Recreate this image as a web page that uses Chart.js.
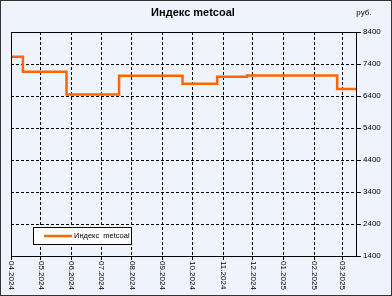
<!DOCTYPE html>
<html>
<head>
<meta charset="utf-8">
<script src="https://cdn.jsdelivr.net/npm/chart.js@4/dist/chart.umd.min.js"></script>
<style>
  html, body { margin: 0; padding: 0; background: #fff; }
  canvas { display: block; }
</style>
</head>
<body>
<canvas id="metcoal" width="392" height="296"></canvas>
<script>
// index values (rub.), step changes
const dates = ['2024-04-01', '2024-04-13', '2024-05-27', '2024-07-19', '2024-09-21', '2024-10-26', '2024-11-25', '2025-02-24', '2025-03-15'];
const values = [7630, 7160, 6450, 7030, 6780, 7000, 7040, 6620, 6620];
const monthStarts = ['2024-04-01', '2024-05-01', '2024-06-01', '2024-07-01', '2024-08-01', '2024-09-01', '2024-10-01', '2024-11-01', '2024-12-01', '2025-01-01', '2025-02-01', '2025-03-01'];
const monthLabels = ['04.2024', '05.2024', '06.2024', '07.2024', '08.2024', '09.2024', '10.2024', '11.2024', '12.2024', '01.2025', '02.2025', '03.2025'];
const yTicks = [1400, 2400, 3400, 4400, 5400, 6400, 7400, 8400];

const seriesName = 'Индекс  metcoal';
const chartTitle = 'Индекс metcoal';
const unit = 'руб.';

const start = Date.parse(dates[0]);
const toDay = d => Math.round((Date.parse(d) - start) / 86400000);
const points = dates.map((d, i) => ({ x: toDay(d), y: values[i] }));
const monthDays = monthStarts.map(toDay);

const bg = '#eff3fc';
const orange = '#ff6600';

const decor = {
    id: 'decor',
    beforeDraw(chart) {
        const ctx = chart.ctx;
        ctx.save();
        ctx.fillStyle = bg;
        ctx.fillRect(0, 0, chart.width, chart.height);
        ctx.restore();
    },
    afterDraw(chart) {
        const ctx = chart.ctx;
        const a = chart.chartArea;
        const xs = chart.scales.x;
        ctx.save();
        // plot frame
        ctx.strokeStyle = '#000';
        ctx.lineWidth = 1;
        ctx.strokeRect(Math.round(a.left) + 0.5, Math.round(a.top) + 0.5, Math.round(a.right - a.left), Math.round(a.bottom - a.top));
        // title
        ctx.fillStyle = '#000';
        ctx.font = 'bold 11px "Liberation Sans", Arial, sans-serif';
        ctx.textAlign = 'center';
        ctx.textBaseline = 'middle';
        ctx.fillText(chartTitle, 193, 13);
        ctx.font = '8px "Liberation Sans", Arial, sans-serif';
        ctx.fillText(unit, 364, 13);
        // month labels, rotated clockwise
        ctx.font = '8px "Liberation Sans", Arial, sans-serif';
        ctx.textAlign = 'left';
        monthDays.forEach((d, i) => {
            const px = xs.getPixelForValue(d);
            ctx.save();
            ctx.translate(px, a.bottom + 5);
            ctx.rotate(Math.PI / 2);
            ctx.fillText(monthLabels[i], 0, 0);
            ctx.restore();
        });
        // legend
        ctx.fillStyle = '#fff';
        ctx.fillRect(33.5, 227.5, 98, 17);
        ctx.strokeStyle = '#000';
        ctx.strokeRect(33.5, 227.5, 98, 17);
        ctx.strokeStyle = orange;
        ctx.lineWidth = 2.5;
        ctx.beginPath();
        ctx.moveTo(44, 236);
        ctx.lineTo(72, 236);
        ctx.stroke();
        ctx.fillStyle = '#000';
        ctx.font = '7.5px "Liberation Sans", Arial, sans-serif';
        ctx.textBaseline = 'middle';
        ctx.fillText(seriesName, 74, 236);
        // outer border
        ctx.strokeStyle = '#333';
        ctx.lineWidth = 1;
        ctx.strokeRect(0.5, 0.5, chart.width - 1, chart.height - 1);
        ctx.restore();
    }
};

new Chart('metcoal', {
    type: 'line',
    data: {
        datasets: [{
            label: seriesName,
            data: points,
            borderColor: orange,
            borderWidth: 2.5,
            stepped: true,
            pointRadius: 0,
            fill: false
        }]
    },
    options: {
        responsive: false,
        animation: false,
        layout: { padding: { left: 11, top: 32, right: 0, bottom: 0 } },
        plugins: {
            legend: { display: false },
            title: { display: false },
            tooltip: { enabled: false }
        },
        scales: {
            x: {
                type: 'linear',
                min: 0,
                max: 348,
                afterBuildTicks: s => { s.ticks = monthDays.map(v => ({ value: v })); },
                afterFit: s => { s.height = 40; },
                ticks: { display: false },
                grid: { color: '#000', lineWidth: 1, drawTicks: true, tickLength: 4 },
                border: { color: '#000', width: 1, dash: [3, 2] }
            },
            y: {
                position: 'right',
                min: 1400,
                max: 8400,
                afterBuildTicks: s => { s.ticks = yTicks.map(v => ({ value: v })); },
                afterFit: s => { s.width = 36; },
                ticks: {
                    color: '#000',
                    padding: 2,
                    callback: v => String(v),
                    font: { family: '"Liberation Sans", Arial, sans-serif', size: 8 }
                },
                grid: { color: '#000', lineWidth: 1, tickLength: 5 },
                border: { color: '#000', width: 1, dash: [3, 2] }
            }
        }
    },
    plugins: [decor]
});
</script>
</body>
</html>
